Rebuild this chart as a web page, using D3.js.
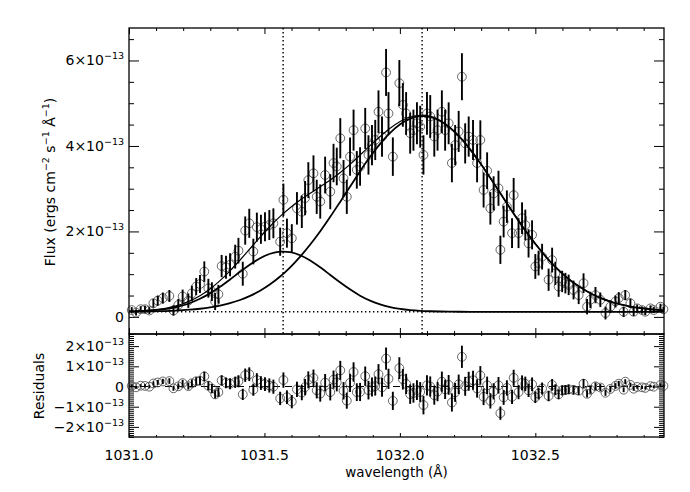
<!DOCTYPE html>
<html><head><meta charset="utf-8">
<script src="https://cdn.jsdelivr.net/npm/d3@7"></script>
<style>body{margin:0;background:#fff}svg{display:block;font-family:"DejaVu Sans",sans-serif}</style>
</head><body><svg id="c" width="690" height="492"></svg>
<script>
// ---- data (flux in units of 1e-13 ergs cm^-2 s^-1 A^-1) ----
const wavelength = [1031.010,1031.026,1031.043,1031.059,1031.075,1031.090,1031.106,1031.125,1031.149,1031.164,1031.182,1031.198,1031.219,1031.232,1031.248,1031.262,1031.278,1031.293,1031.306,1031.318,1031.330,1031.342,1031.358,1031.373,1031.392,1031.404,1031.420,1031.429,1031.444,1031.459,1031.472,1031.487,1031.502,1031.518,1031.533,1031.558,1031.570,1031.583,1031.601,1031.620,1031.638,1031.650,1031.662,1031.681,1031.693,1031.706,1031.724,1031.743,1031.755,1031.767,1031.780,1031.792,1031.804,1031.816,1031.829,1031.841,1031.853,1031.872,1031.884,1031.897,1031.909,1031.921,1031.934,1031.949,1031.958,1031.974,1031.998,1032.011,1032.023,1032.038,1032.050,1032.063,1032.075,1032.087,1032.100,1032.112,1032.127,1032.139,1032.155,1032.167,1032.180,1032.192,1032.204,1032.217,1032.229,1032.241,1032.254,1032.270,1032.285,1032.297,1032.309,1032.322,1032.334,1032.346,1032.364,1032.371,1032.383,1032.395,1032.414,1032.420,1032.438,1032.451,1032.463,1032.475,1032.488,1032.500,1032.512,1032.525,1032.549,1032.562,1032.574,1032.586,1032.599,1032.611,1032.623,1032.641,1032.660,1032.678,1032.691,1032.703,1032.722,1032.740,1032.759,1032.777,1032.796,1032.808,1032.826,1032.832,1032.851,1032.863,1032.876,1032.894,1032.906,1032.925,1032.937,1032.962,1032.973];
const flux = [0.16,0.10,0.18,0.18,0.15,0.32,0.38,0.44,0.49,0.15,0.28,0.48,0.38,0.55,0.71,0.77,1.06,0.67,0.59,0.36,0.53,1.19,1.16,1.22,1.41,1.55,1.01,2.02,2.19,1.53,2.10,2.05,2.11,2.15,2.19,1.76,2.74,1.96,1.84,2.54,2.46,2.78,3.20,3.36,2.81,2.70,3.32,2.93,3.60,3.52,4.18,3.24,2.81,3.75,4.37,3.44,3.52,4.41,3.79,4.02,4.14,4.80,4.22,5.72,4.76,3.75,5.47,4.96,4.76,4.30,4.37,4.53,4.45,3.79,4.76,4.69,4.22,4.37,4.80,4.37,4.53,3.60,4.02,4.34,5.62,4.06,4.22,4.14,3.60,4.14,2.97,3.42,2.54,2.89,3.01,1.57,2.23,2.58,1.96,2.85,1.96,2.31,2.15,1.72,1.92,1.18,1.26,1.41,0.87,1.33,1.02,0.71,0.83,0.79,0.75,0.63,0.51,0.79,0.24,0.40,0.51,0.40,0.09,0.24,0.36,0.44,0.12,0.51,0.32,0.12,0.20,0.16,0.12,0.20,0.16,0.24,0.18];
const fluxErr = [0.07,0.07,0.07,0.08,0.08,0.10,0.12,0.13,0.14,0.12,0.14,0.16,0.17,0.18,0.20,0.21,0.24,0.22,0.22,0.20,0.22,0.26,0.27,0.27,0.28,0.30,0.28,0.33,0.34,0.30,0.34,0.34,0.34,0.35,0.35,0.33,0.38,0.34,0.33,0.38,0.38,0.40,0.42,0.42,0.40,0.40,0.43,0.41,0.45,0.44,0.47,0.43,0.40,0.45,0.48,0.44,0.45,0.48,0.46,0.47,0.47,0.50,0.47,0.55,0.50,0.45,0.54,0.51,0.50,0.48,0.48,0.49,0.49,0.46,0.50,0.50,0.47,0.48,0.50,0.48,0.49,0.45,0.47,0.48,0.55,0.47,0.47,0.47,0.45,0.46,0.41,0.43,0.38,0.40,0.41,0.33,0.37,0.38,0.35,0.40,0.35,0.37,0.36,0.33,0.34,0.29,0.29,0.30,0.26,0.29,0.27,0.24,0.25,0.24,0.24,0.22,0.21,0.23,0.18,0.19,0.19,0.17,0.15,0.15,0.14,0.14,0.12,0.12,0.11,0.10,0.09,0.08,0.08,0.07,0.07,0.07,0.06];
const residual = [0.03,-0.04,0.04,0.03,-0.01,0.15,0.20,0.25,0.27,-0.09,0.01,0.17,0.02,0.16,0.26,0.28,0.50,0.04,-0.10,-0.39,-0.28,0.30,0.18,0.14,0.21,0.26,-0.39,0.56,0.61,-0.16,0.32,0.17,0.12,0.05,-0.01,-0.59,0.32,-0.53,-0.75,-0.14,-0.30,-0.03,0.33,0.42,-0.19,-0.35,0.19,-0.28,0.34,0.20,0.80,-0.21,-0.70,0.18,0.72,-0.28,-0.27,0.51,-0.18,-0.03,0.02,0.61,-0.04,1.38,0.38,-0.71,0.91,0.36,0.13,-0.38,-0.32,-0.18,-0.27,-0.92,0.06,0.00,-0.43,-0.25,0.24,-0.14,0.08,-0.79,-0.29,0.11,1.47,0.01,0.26,0.31,-0.10,0.55,-0.51,0.06,-0.71,-0.24,0.06,-1.32,-0.54,-0.07,-0.51,0.43,-0.28,0.18,0.13,-0.19,0.11,-0.53,-0.35,-0.10,-0.47,0.08,-0.16,-0.39,-0.19,-0.17,-0.14,-0.17,-0.21,0.14,-0.36,-0.16,0.01,-0.05,-0.31,-0.12,0.03,0.14,-0.16,0.24,0.08,-0.11,-0.02,-0.04,-0.07,0.02,-0.01,0.08,0.03];

// fitted model curves, sampled (same units)
const modelWave = [1031.000,1031.041,1031.078,1031.115,1031.151,1031.188,1031.225,1031.262,1031.299,1031.336,1031.373,1031.410,1031.447,1031.484,1031.521,1031.558,1031.595,1031.632,1031.669,1031.706,1031.743,1031.780,1031.817,1031.853,1031.890,1031.927,1031.964,1032.001,1032.038,1032.075,1032.112,1032.149,1032.186,1032.223,1032.260,1032.297,1032.334,1032.371,1032.408,1032.445,1032.482,1032.519,1032.555,1032.592,1032.629,1032.666,1032.703,1032.740,1032.777,1032.814,1032.851,1032.888,1032.925,1032.962,1032.975];
const narrowComp = [0.128,0.135,0.148,0.169,0.202,0.253,0.326,0.424,0.551,0.703,0.875,1.055,1.227,1.373,1.478,1.527,1.515,1.442,1.319,1.160,0.982,0.804,0.639,0.497,0.382,0.294,0.230,0.187,0.159,0.142,0.132,0.126,0.123,0.121,0.120,0.120,0.120,0.120,0.120,0.120,0.120,0.120,0.120,0.120,0.120,0.120,0.120,0.120,0.120,0.120,0.120,0.120,0.120,0.120,0.120];
const broadComp = [0.123,0.126,0.129,0.134,0.141,0.152,0.168,0.191,0.222,0.265,0.322,0.396,0.492,0.614,0.764,0.946,1.161,1.411,1.694,2.006,2.344,2.697,3.056,3.411,3.746,4.049,4.306,4.506,4.638,4.697,4.679,4.586,4.421,4.194,3.915,3.595,3.249,2.891,2.533,2.186,1.859,1.560,1.292,1.058,0.858,0.692,0.555,0.446,0.360,0.293,0.243,0.206,0.179,0.160,0.153];
const totalModel = [0.131,0.141,0.157,0.183,0.223,0.285,0.374,0.495,0.653,0.848,1.077,1.331,1.599,1.867,2.122,2.353,2.556,2.733,2.893,3.046,3.206,3.381,3.575,3.788,4.008,4.223,4.416,4.573,4.677,4.719,4.691,4.592,4.424,4.195,3.915,3.595,3.249,2.891,2.533,2.186,1.859,1.560,1.292,1.058,0.858,0.692,0.555,0.446,0.360,0.293,0.243,0.206,0.179,0.160,0.153];
const lineCenters = [1031.569, 1032.082];
const continuumLevel = [0.12];

// ticks
const xTicks = [1031.0, 1031.5, 1032.0, 1032.5];
const xTickLabels = ["1031.0", "1031.5", "1032.0", "1032.5"];
const fluxTicks = [0, 2, 4, 6];
const fluxTickLabels = [["0",""],["2×10","−13"],["4×10","−13"],["6×10","−13"]];
const resTicks = [-2, -1, 0, 1, 2];
const resTickLabels = [["−2×10","−13"],["−1×10","−13"],["0",""],["1×10","−13"],["2×10","−13"]];

// ---- drawing ----
const svg = d3.select("#c");
svg.append("rect").attr("width",690).attr("height",492).attr("fill","#fff");
const L=129, R=664, T=28, M=334, B=437;
const x = d3.scaleLinear().domain([1031.0, 1032.975]).range([L, R]);
const yF = d3.scaleLinear().domain([-0.4, 6.76]).range([M, T]);
const yR = d3.scaleLinear().domain([-2.5, 2.6]).range([B, M]);

function tickSet(axisFn, scale, vals, len, tx, ty) {
  svg.append("g").attr("transform", `translate(${tx},${ty})`)
    .call(axisFn(scale).tickValues(vals).tickSize(-len).tickFormat(""))
    .call(g => g.select(".domain").remove())
    .selectAll("line").attr("stroke", "#000").attr("stroke-width", 1);
}
const xMinor = d3.range(1031.1, 1032.95, 0.1).filter(v => Math.abs(v*2 - Math.round(v*2)) > 1e-6);
const fMinor = d3.range(0.5, 6.76, 0.5).filter(v => v % 2 !== 0);
const rMinor = d3.range(-25, 27, 1).map(v => v/10).filter(v => Math.abs(v - Math.round(v)) > 1e-6);

// top panel ticks
tickSet(d3.axisBottom, x, xTicks, 6, 0, M);
tickSet(d3.axisBottom, x, xMinor, 3, 0, M);
tickSet(d3.axisTop, x, xTicks, 6, 0, T);
tickSet(d3.axisTop, x, xMinor, 3, 0, T);
tickSet(d3.axisLeft, yF, fluxTicks, 10, L, 0);
tickSet(d3.axisLeft, yF, fMinor, 5, L, 0);
tickSet(d3.axisRight, yF, fluxTicks, 10, R, 0);
tickSet(d3.axisRight, yF, fMinor, 5, R, 0);
// residual panel ticks
tickSet(d3.axisBottom, x, xTicks, 4, 0, B);
tickSet(d3.axisBottom, x, xMinor, 2, 0, B);
tickSet(d3.axisTop, x, xTicks, 4, 0, M);
tickSet(d3.axisTop, x, xMinor, 2, 0, M);
tickSet(d3.axisLeft, yR, resTicks, 10, L, 0);
tickSet(d3.axisLeft, yR, rMinor, 5, L, 0);
tickSet(d3.axisRight, yR, resTicks, 10, R, 0);
tickSet(d3.axisRight, yR, rMinor, 5, R, 0);

// dotted reference lines
const gDot = svg.append("g").attr("stroke","#000").attr("stroke-width",1.4).attr("stroke-dasharray","1.4,2.6").attr("fill","none");
gDot.selectAll("line.v").data(lineCenters).join("line").attr("class","v")
  .attr("x1", d => x(d)).attr("x2", d => x(d)).attr("y1", T).attr("y2", M);
gDot.selectAll("line.h").data(continuumLevel).join("line").attr("class","h")
  .attr("x1", L).attr("x2", R).attr("y1", d => yF(d)).attr("y2", d => yF(d));

// residual zero line
svg.append("line").attr("x1", L).attr("x2", R).attr("y1", yR(0)).attr("y2", yR(0))
  .attr("stroke","#000").attr("stroke-width",1).attr("stroke-dasharray","7,5");

const pts = wavelength.map((w, i) => ({w, f: flux[i], e: fluxErr[i], r: residual[i]}));

// top panel data
const gTop = svg.append("g");
gTop.selectAll("circle").data(pts).join("circle")
  .attr("cx", d => x(d.w)).attr("cy", d => yF(d.f)).attr("r", 4.4)
  .attr("fill","none").attr("stroke","#555").attr("stroke-width",0.9);
gTop.selectAll("line").data(pts).join("line")
  .attr("x1", d => x(d.w)).attr("x2", d => x(d.w))
  .attr("y1", d => yF(d.f - d.e)).attr("y2", d => yF(d.f + d.e))
  .attr("stroke","#000").attr("stroke-width",1.9);

// model curves
const model = modelWave.map((w, i) => ({w, n: narrowComp[i], b: broadComp[i], t: totalModel[i]}));
const lineOf = key => d3.line().x(d => x(d.w)).y(d => yF(d[key])).curve(d3.curveCatmullRom);
svg.append("path").attr("d", lineOf("n")(model)).attr("fill","none").attr("stroke","#000").attr("stroke-width",1.8);
svg.append("path").attr("d", lineOf("b")(model)).attr("fill","none").attr("stroke","#000").attr("stroke-width",1.8);
svg.append("path").attr("d", lineOf("t")(model)).attr("fill","none").attr("stroke","#000").attr("stroke-width",1.2);

// residual panel data
const gRes = svg.append("g");
gRes.selectAll("circle").data(pts).join("circle")
  .attr("cx", d => x(d.w)).attr("cy", d => yR(d.r)).attr("r", 4.4)
  .attr("fill","none").attr("stroke","#555").attr("stroke-width",0.9);
gRes.selectAll("line").data(pts).join("line")
  .attr("x1", d => x(d.w)).attr("x2", d => x(d.w))
  .attr("y1", d => yR(d.r - d.e)).attr("y2", d => yR(d.r + d.e))
  .attr("stroke","#000").attr("stroke-width",1.9);

// frames
svg.append("rect").attr("x", L).attr("y", T).attr("width", R-L).attr("height", M-T)
  .attr("fill","none").attr("stroke","#000").attr("stroke-width",1.3);
svg.append("rect").attr("x", L).attr("y", M).attr("width", R-L).attr("height", B-M)
  .attr("fill","none").attr("stroke","#000").attr("stroke-width",1.3);

// tick labels
function yLabel(scale, v, lab) {
  const t = svg.append("text").attr("x", 124).attr("y", scale(v) + 5)
    .attr("text-anchor","end").attr("font-size",14).attr("fill","#000");
  t.append("tspan").text(lab[0]);
  if (lab[1]) t.append("tspan").attr("dy", -6).attr("font-size", 9.5).text(lab[1]);
}
fluxTicks.forEach((v, i) => yLabel(yF, v, fluxTickLabels[i]));
resTicks.forEach((v, i) => yLabel(yR, v, resTickLabels[i]));
svg.append("g").selectAll("text").data(xTicks).join("text")
  .attr("x", d => x(d)).attr("y", 460).attr("text-anchor","middle")
  .attr("font-size",14).attr("fill","#000").text((d, i) => xTickLabels[i]);

// axis titles
svg.append("text").attr("x", (L+R)/2).attr("y", 477).attr("text-anchor","middle")
  .attr("font-size",13.5).text("wavelength (Å)");
const ft = svg.append("text").attr("transform","translate(55,182) rotate(-90)")
  .attr("text-anchor","middle").attr("font-size",14);
ft.append("tspan").text("Flux (ergs cm");
ft.append("tspan").attr("dy",-6).attr("font-size",9.5).text("−2");
ft.append("tspan").attr("dy",6).text(" s");
ft.append("tspan").attr("dy",-6).attr("font-size",9.5).text("−1");
ft.append("tspan").attr("dy",6).text(" Å");
ft.append("tspan").attr("dy",-6).attr("font-size",9.5).text("−1");
ft.append("tspan").attr("dy",6).text(")");
svg.append("text").attr("transform","translate(44,386) rotate(-90)")
  .attr("text-anchor","middle").attr("font-size",14).text("Residuals");
</script></body></html>
